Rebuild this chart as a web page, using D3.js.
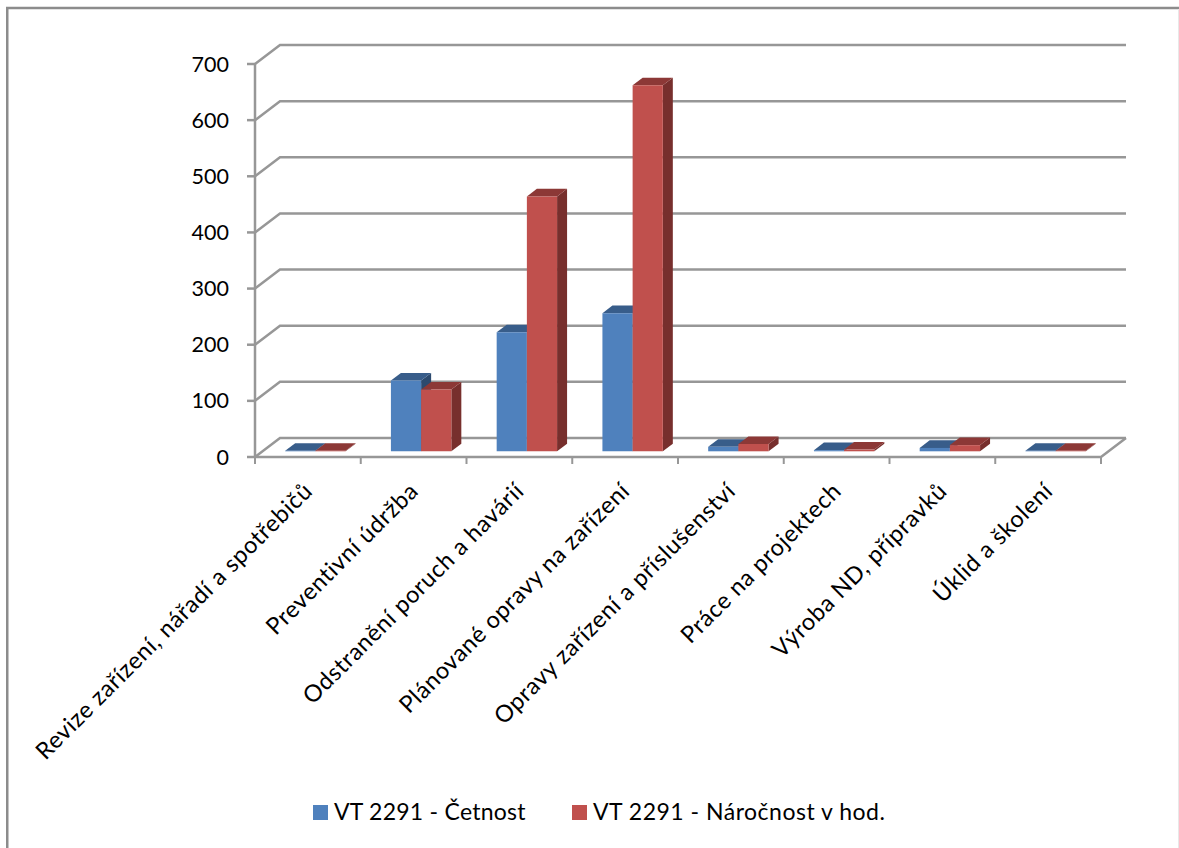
<!DOCTYPE html>
<html>
<head>
<meta charset="utf-8">
<script src="https://cdn.jsdelivr.net/npm/d3@7"></script>
<style>
html,body{margin:0;padding:0;background:#fff;}
svg{display:block;}
text{font-family:Lato,"Open Sans",sans-serif;fill:#000;}
</style>
</head>
<body>
<svg id="chart" width="1179" height="848"></svg>
<script>
// Maintenance categories and the two measured series
const categories = [
  "Revize zařízení, nářadí a spotřebičů",
  "Preventivní údržba",
  "Odstranění poruch a havárií",
  "Plánované opravy na zařízení",
  "Opravy zařízení a příslušenství",
  "Práce na projektech",
  "Výroba ND, přípravků",
  "Úklid a školení"
];
const seriesNames = ["VT 2291 - Četnost", "VT 2291 - Náročnost v hod."];
const cetnost = [1, 126, 212, 246, 8, 2, 6, 1];
const narocnost = [1, 110, 454, 652, 13, 3, 11, 1];
const yTicks = [0, 100, 200, 300, 400, 500, 600, 700];
const colors = {
  front: ["#4f81bd", "#c0504d"],
  top: ["#385d8a", "#8c3836"],
  side: ["#2c4a6e", "#772f2d"]
};

const svg = d3.select("#chart");

// Oblique 3D projection: x along categories, y is value, z runs from front (0) to back wall (1)
const x = d3.scaleBand().domain(categories).range([255, 1101]).paddingInner(0).paddingOuter(0);
const y = d3.scaleLinear().domain([0, 700]).range([457, 64]);
const z = d3.scaleLinear().domain([0, 1]).range([0, 1]);
const depth = { dx: 25, dy: -19 };
const project = (px, value, zv) => [px + z(zv) * depth.dx, y(value) + z(zv) * depth.dy];
const pathOf = pts => d3.line()(pts) + "Z";

// Chart frame: strong top and left edges, a faint right edge
svg.append("path").attr("fill", "none").attr("stroke", "#8c8c8c").attr("stroke-width", 2.5)
  .attr("d", d3.line()([[7.25, 848], [7.25, 8], [1179, 8]]));
svg.append("path").attr("fill", "none").attr("stroke", "#e8e8e8").attr("stroke-width", 1)
  .attr("d", d3.line()([[1178.5, 9], [1178.5, 848]]));

// Gridlines on the floor edge, side wall and back wall
const gridColor = "#979797";
const grid = svg.append("g").attr("fill", "none").attr("stroke", gridColor).attr("stroke-width", 2.5);
yTicks.forEach(t => {
  grid.append("path").attr("d", d3.line()([
    project(255, t, 0), project(255, t, 1), project(1101, t, 1)
  ]));
});
// Floor: right edge and front edge, value axis with its ticks
grid.append("path").attr("d", d3.line()([project(1101, 0, 1), project(1101, 0, 0), project(255, 0, 0)]));
grid.append("path").attr("d", d3.line()([project(255, 0, 0), project(255, 700, 0)]));
yTicks.forEach(t => {
  grid.append("path").attr("d", d3.line()([[247, y(t)], [255, y(t)]]));
});
d3.range(categories.length + 1).forEach(i => {
  const px = 255 + i * x.bandwidth();
  grid.append("path").attr("d", d3.line()([[px, 457], [px, 464]])).attr("stroke-width", 2);
});

// Value axis labels
svg.append("g").selectAll("text").data(yTicks).join("text")
  .attr("x", 229).attr("y", d => y(d) + 7.5)
  .attr("text-anchor", "end").attr("font-size", 21.5)
  .text(d => d);

// Category labels, rotated 45 degrees and ending below each band centre
svg.append("g").selectAll("text").data(categories).join("text")
  .attr("text-anchor", "end").attr("font-size", 23.5).attr("letter-spacing", 0.6)
  .attr("transform", d => `translate(${x(d) + x.bandwidth() / 2 + 6},${492.5}) rotate(-45)`)
  .text(d => d);

// Bars: each one is a front face, a top and a right side
const barWidth = 30.2;
const z0 = 0.3, z1 = 0.7;
const barsG = svg.append("g");
categories.forEach((c, i) => {
  const left = x(c) + (x.bandwidth() - barWidth * 2) / 2;
  [cetnost[i], narocnost[i]].forEach((v, s) => {
    const a = left + s * barWidth, b = a + barWidth;
    const g = barsG.append("g").attr("class", "bar");
    g.append("path").attr("fill", colors.side[s]).attr("d", pathOf([
      project(b, 0, z0), project(b, 0, z1), project(b, v, z1), project(b, v, z0)
    ]));
    g.append("path").attr("fill", colors.top[s]).attr("d", pathOf([
      project(a, v, z0), project(b, v, z0), project(b, v, z1), project(a, v, z1)
    ]));
    g.append("path").attr("fill", colors.front[s]).attr("d", pathOf([
      project(a, 0, z0), project(b, 0, z0), project(b, v, z0), project(a, v, z0)
    ]));
  });
});

// Legend
const legend = svg.append("g");
const legendX = [313, 572];
const legendTracking = [0.25, 0.5];
seriesNames.forEach((n, i) => {
  legend.append("rect").attr("x", legendX[i]).attr("y", 805).attr("width", 15).attr("height", 15)
    .attr("fill", colors.front[i]);
  legend.append("text").attr("x", legendX[i] + 21).attr("y", 820)
    .attr("font-size", 23).attr("letter-spacing", legendTracking[i]).text(n);
});
</script>
</body>
</html>
